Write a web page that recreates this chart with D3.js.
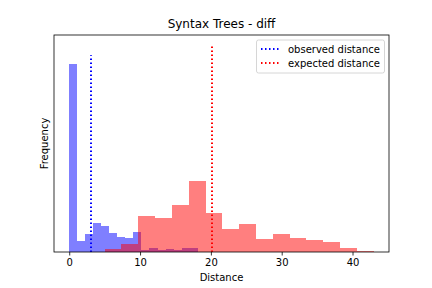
<!DOCTYPE html>
<html>
<head>
<meta charset="utf-8">
<script src="https://cdn.jsdelivr.net/npm/d3@7"></script>
<style>
  html, body { margin: 0; padding: 0; background: #fff; }
  svg { display: block; font-family: "DejaVu Sans", sans-serif; }
</style>
</head>
<body>
<svg id="chart" width="432" height="288"></svg>
<script>
// ---- data ----
const blueEdges = [0, 1.133, 2.267, 3.4, 4.533, 5.667, 6.8, 7.933, 9.067, 10.2, 11.333, 12.467, 13.6, 14.733, 15.867, 17.0, 18.133];
const blueCounts = [188, 11, 18, 29, 26, 19, 15, 14, 20, 2, 4, 2, 3, 2, 4, 4];
const redEdges = [5, 7.375, 9.75, 12.125, 14.5, 16.875, 19.25, 21.625, 24, 26.375, 28.75, 31.125, 33.5, 35.875, 38.25, 40.625, 43];
const redCounts = [3, 8, 36, 34, 47, 71, 39, 23, 28, 13, 18, 14, 12, 10, 4, 1];
const lineNames = ["observed distance", "expected distance"];
const lineX = [3.1, 20.1];
const lineTop = [197, 207];
const lineColors = ["#0000ff", "#ff0000"];
const xTicks = [0, 10, 20, 30, 40];
const xDomain = [-2.15, 45.15];
const yDomain = [0, 217.35];

// ---- layout ----
const L = 54, R = 389, T = 35, B = 252;
const svg = d3.select("#chart");
const x = d3.scaleLinear().domain(xDomain).range([L, R]);
const y = d3.scaleLinear().domain(yDomain).range([B, T]);

function bars(edges, counts, color, cls) {
  const data = counts.map((c, i) => ({x0: edges[i], x1: edges[i + 1], c}));
  svg.append("g").attr("class", cls).selectAll("rect").data(data).join("rect")
    .attr("x", d => x(d.x0))
    .attr("width", d => x(d.x1) - x(d.x0))
    .attr("y", d => y(d.c))
    .attr("height", d => y(0) - y(d.c))
    .attr("fill", color)
    .attr("fill-opacity", 0.5)
    .attr("shape-rendering", "crispEdges");
}
bars(blueEdges, blueCounts, "#0000ff", "blue");
bars(redEdges, redCounts, "#ff0000", "red");

// vertical dotted lines
svg.append("g").selectAll("line").data(lineX).join("line")
  .attr("x1", d => Math.round(x(d))).attr("x2", d => Math.round(x(d)))
  .attr("y1", y(0)).attr("y2", (d, i) => y(lineTop[i]))
  .attr("stroke", (d, i) => lineColors[i])
  .attr("stroke-width", 2)
  .attr("stroke-dasharray", "1.5,2.5");

// axes frame
svg.append("rect").attr("x", L).attr("y", T).attr("width", R - L).attr("height", B - T)
  .attr("fill", "none").attr("stroke", "#000").attr("stroke-width", 0.8);

// x axis
const xAxis = d3.axisBottom(x).tickValues(xTicks).tickSize(3.5).tickPadding(3.5).tickFormat(d3.format("d"));
const gx = svg.append("g").attr("transform", `translate(0,${B})`).call(xAxis);
gx.select(".domain").remove();
gx.selectAll(".tick line").attr("stroke", "#000").attr("stroke-width", 0.8);
gx.selectAll(".tick text").attr("fill", "#000").attr("font-size", 10).attr("font-family", "DejaVu Sans");

// labels
svg.append("text").attr("x", (L + R) / 2).attr("y", 281).attr("text-anchor", "middle")
  .attr("font-size", 10).text("Distance");
svg.append("text").attr("transform", `translate(48,${(T + B) / 2}) rotate(-90)`)
  .attr("text-anchor", "middle").attr("font-size", 10).text("Frequency");
svg.append("text").attr("x", (L + R) / 2).attr("y", 28).attr("text-anchor", "middle")
  .attr("font-size", 12).text("Syntax Trees - diff");

// legend
const lg = svg.append("g");
lg.append("rect").attr("x", 256.5).attr("y", 40).attr("width", 128).attr("height", 33)
  .attr("rx", 2).attr("fill", "#fff").attr("fill-opacity", 0.8)
  .attr("stroke", "#cccccc").attr("stroke-width", 0.8);
lineNames.forEach((name, i) => {
  const cy = Math.round(48.5 + i * 14.3);
  lg.append("line").attr("x1", 261).attr("x2", 281).attr("y1", cy).attr("y2", cy)
    .attr("stroke", lineColors[i]).attr("stroke-width", 2).attr("stroke-dasharray", "1.5,2.5");
  lg.append("text").attr("x", 288).attr("y", cy + 3.6).attr("font-size", 10).text(name);
});
</script>
</body>
</html>
